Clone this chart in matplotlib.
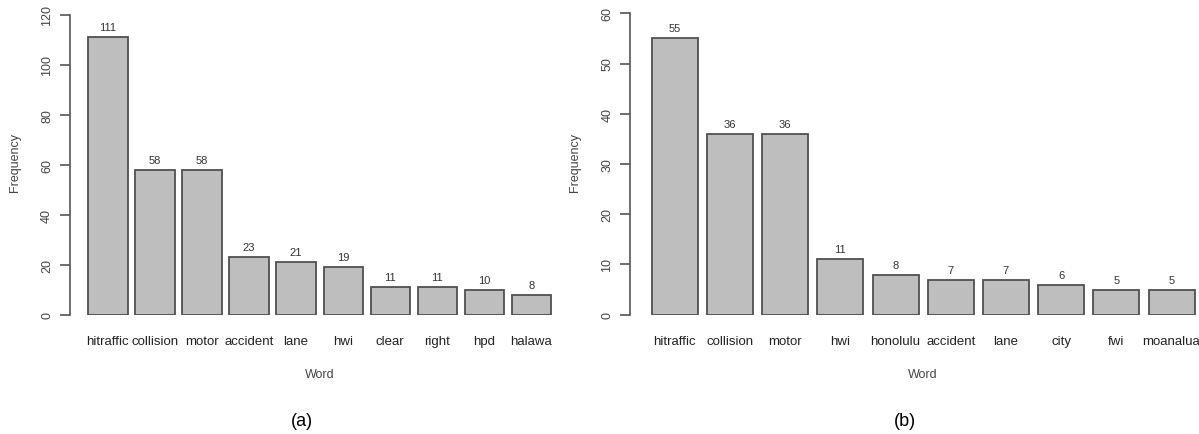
import matplotlib.pyplot as plt
from matplotlib.transforms import blended_transform_factory

plt.rcParams['font.family'] = ['Liberation Sans', 'DejaVu Sans']

words_a = ['hitraffic', 'collision', 'motor', 'accident', 'lane', 'hwi', 'clear', 'right', 'hpd', 'halawa']
freq_a = [111, 58, 58, 23, 21, 19, 11, 11, 10, 8]
yticks_a = [0, 20, 40, 60, 80, 100, 120]

words_b = ['hitraffic', 'collision', 'motor', 'hwi', 'honolulu', 'accident', 'lane', 'city', 'fwi', 'moanalua']
freq_b = [55, 36, 36, 11, 8, 7, 7, 6, 5, 5]
yticks_b = [0, 10, 20, 30, 40, 50, 60]

W, H = 1199, 435
fig = plt.figure(figsize=(W / 100, H / 100), dpi=100)


def px_axes(left, top, width, height):
    # axes placed by pixel coords (top-left origin)
    return fig.add_axes([left / W, 1 - (top + height) / H, width / W, height / H])


def draw_panel(ax, words, freq, yticks, panel_label, label_x):
    n = len(words)
    lefts = [0.2 + 1.2 * i for i in range(n)]
    centers = [l + 0.5 for l in lefts]
    ax.bar(centers, freq, width=1.0, color='#bebebe', edgecolor='#505050', linewidth=1.3)
    xmin, xmax = 0.2, lefts[-1] + 1.0
    pad = 0.04 * (xmax - xmin)
    ax.set_xlim(xmin - pad, xmax + pad)
    ax.set_ylim(yticks[0], yticks[-1])

    for s in ['top', 'right', 'bottom']:
        ax.spines[s].set_visible(False)
    ax.spines['left'].set_color('#555555')
    ax.spines['left'].set_linewidth(1.2)
    ax.spines['left'].set_bounds(yticks[0], yticks[-1])
    ax.set_yticks(yticks)
    ax.set_yticklabels([str(t) for t in yticks], rotation=90, va='center',
                       fontsize=9, color='#444444')
    ax.tick_params(axis='y', length=7, width=1.2, color='#555555', pad=5)
    ax.set_xticks([])

    for x, v in zip(centers, freq):
        ax.annotate(str(v), (x, v), xytext=(0, 10), textcoords='offset pixels',
                    ha='center', va='center', fontsize=8, color='#333333')

    tr = blended_transform_factory(ax.transData, fig.transFigure)
    for x, w in zip(centers, words):
        ax.text(x, 1 - 341.7 / H, w, transform=tr, ha='center', va='center',
                fontsize=9.5, color='#222222')

    fig.text(label_x / W, 1 - 375 / H, 'Word', ha='center', va='center',
             fontsize=9, color='#444444')
    fig.text(label_x / W - 0.015, 1 - 421.7 / H, panel_label, ha='center', va='center',
             fontsize=13, color='black')


ax_a = px_axes(69.8, 15.7, 12.744 * 39.2, 300)
draw_panel(ax_a, words_a, freq_a, yticks_a, '(a)', 320)
fig.text(15 / W, 1 - 163 / H, 'Frequency', rotation=90, ha='center', va='center',
         fontsize=9, color='#444444')

ax_b = px_axes(630, 14.3, 12.744 * 46, 301.4)
draw_panel(ax_b, words_b, freq_b, yticks_b, '(b)', 923)
fig.text(575 / W, 1 - 163 / H, 'Frequency', rotation=90, ha='center', va='center',
         fontsize=9, color='#444444')

fig.savefig('out.png', dpi=100)
